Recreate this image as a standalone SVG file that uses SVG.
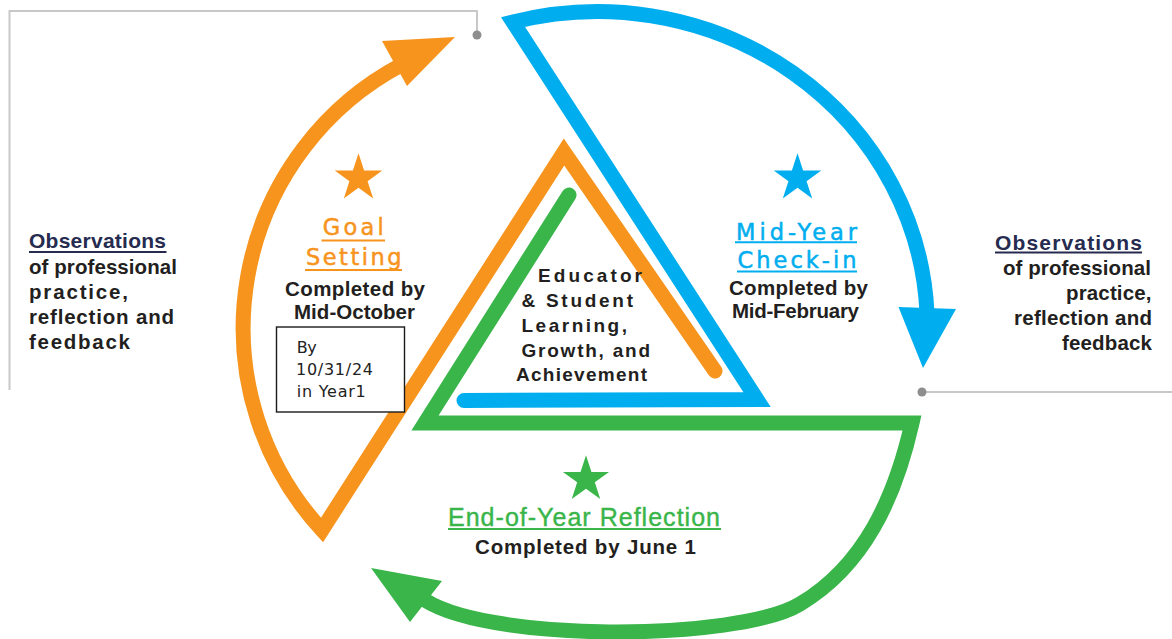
<svg xmlns="http://www.w3.org/2000/svg" width="1172" height="639" viewBox="0 0 1172 639">
  <style>
    .band { fill: none; stroke-width: 15; stroke-linejoin: miter; stroke-linecap: round; }
    .orange { stroke: #f7941d; }
    .blue { stroke: #00aeef; }
    .green { stroke: #39b54a; }
    .fo { fill: #f7941d; }
    .fb { fill: #00aeef; }
    .fg { fill: #39b54a; }
    .leader { fill: none; stroke: #c8c8c8; stroke-width: 2; }
    .dot { fill: #8e8e8e; }
    .blk { font-family: "Liberation Sans", Arial, sans-serif; font-weight: bold; font-size: 20.5px; fill: #231f20; }
    .obs { font-family: "Liberation Sans", Arial, sans-serif; font-weight: bold; font-size: 21px; fill: #262b4f; }
    .head { font-family: "DejaVu Sans", Verdana, sans-serif; font-size: 22.5px; stroke-width: 0.5; }
    .end { font-family: "Liberation Sans", Arial, sans-serif; font-size: 25px; stroke: #39b54a; stroke-width: 0.4; }
    .ctr { font-family: "Liberation Sans", Arial, sans-serif; font-weight: bold; font-size: 19px; fill: #231f20; }
    .note { font-family: "DejaVu Sans", Verdana, sans-serif; font-size: 16px; fill: #222222; }
    .ul { stroke-width: 2; }
  </style>
  <defs>
    <polygon id="star" points="0,-25 5.61,-7.73 23.78,-7.73 9.08,2.95 14.69,20.23 0,9.55 -14.69,20.23 -9.08,2.95 -23.78,-7.73 -5.61,-7.73"/>
  </defs>

  <rect width="1172" height="639" fill="#ffffff"/>

  <!-- leader lines to the observation notes -->
  <g id="connectors">
    <path class="leader" d="M 9.5,390 L 9.5,11 L 477,11 L 477,35"/>
    <circle class="dot" cx="477" cy="35" r="4.5"/>
    <path class="leader" d="M 922,392 L 1172,392"/>
    <circle class="dot" cx="922" cy="392" r="4.5"/>
  </g>

  <!-- green: end-of-year loop -->
  <g id="end-of-year">
    <path class="band green" stroke-width="14" d="M 569,195 L 425,423 L 912,423 C 895,498 864,566 800,604 C 740,641 479,644 419,596"/>
    <polygon class="fg" points="371,568 442,581 410,622"/>
    <use href="#star" class="fg" transform="translate(586,479.5) scale(0.97)"/>
    <text class="end fg" x="448" y="526" textLength="272">End-of-Year Reflection</text>
    <line class="ul" stroke="#39b54a" x1="448" y1="529" x2="721" y2="529"/>
    <text class="blk" x="475" y="554" textLength="221">Completed  by  June  1</text>
  </g>

  <!-- blue: mid-year loop -->
  <g id="mid-year">
    <path class="band blue" stroke-width="14.5" d="M 464,400.5 L 757,399.5 L 513,22 A 330 315 0 0 1 927,313"/>
    <polygon class="fb" points="923,368 898.5,307 956,309"/>
    <use href="#star" class="fb" transform="translate(797.5,178.3)"/>
    <text class="head fb" stroke="#00aeef" x="736" y="239.5" textLength="121">Mid-Year</text>
    <line class="ul" stroke="#00aeef" x1="735" y1="242.3" x2="857" y2="242.3"/>
    <text class="head fb" stroke="#00aeef" x="737.5" y="268" textLength="119">Check-in</text>
    <line class="ul" stroke="#00aeef" x1="737" y1="271.5" x2="857" y2="271.5"/>
    <text class="blk" x="729" y="295" textLength="139">Completed  by</text>
    <text class="blk" x="732" y="318" textLength="127">Mid-February</text>
  </g>

  <!-- orange: goal-setting loop -->
  <g id="goal-setting">
    <path class="band orange" d="M 715,371 L 564,152 L 322,530 A 298 298 0 0 1 401.8,64.7"/>
    <polygon class="fo" points="455,37 382,41 407,86"/>
    <use href="#star" class="fo" transform="translate(358.5,178.3)"/>
    <text class="head fo" stroke="#f7941d" x="322.7" y="235" textLength="61">Goal</text>
    <line class="ul" stroke="#f7941d" x1="321.5" y1="240.5" x2="385" y2="240.5"/>
    <text class="head fo" stroke="#f7941d" x="306" y="265" textLength="95.5">Setting</text>
    <line class="ul" stroke="#f7941d" x1="305" y1="270" x2="402" y2="270"/>
    <text class="blk" x="285" y="296" textLength="140">Completed  by</text>
    <text class="blk" x="294" y="319" textLength="121">Mid-October</text>
  </g>

  <!-- deadline note -->
  <g id="deadline-note">
    <rect x="276.5" y="327" width="128" height="85" fill="#ffffff" stroke="#1a1a1a" stroke-width="1.4"/>
    <text class="note" x="296.7" y="353.3" textLength="20">By</text>
    <text class="note" x="296" y="375" textLength="77">10/31/24</text>
    <text class="note" x="296.7" y="397.3" textLength="69">in Year1</text>
  </g>

  <!-- centre statement -->
  <g id="centre">
    <text class="ctr" x="538" y="281.5" textLength="104">Educator</text>
    <text class="ctr" x="521.5" y="306.5" textLength="111.5">&amp; Student</text>
    <text class="ctr" x="521.5" y="331.5" textLength="105.5">Learning,</text>
    <text class="ctr" x="521.5" y="356.5" textLength="128.5">Growth, and</text>
    <text class="ctr" x="516" y="380.5" textLength="131">Achievement</text>
  </g>

  <!-- observation notes -->
  <g id="observations-left">
    <text class="obs" x="29" y="248" textLength="137">Observations</text>
    <line class="ul" stroke="#262b4f" x1="29" y1="252" x2="166.5" y2="252"/>
    <text class="blk" x="29" y="273.5" textLength="148">of professional</text>
    <text class="blk" x="29" y="299" textLength="99">practice,</text>
    <text class="blk" x="29" y="324" textLength="145">reflection  and</text>
    <text class="blk" x="29" y="349" textLength="101">feedback</text>
  </g>
  <g id="observations-right">
    <text class="obs" x="995" y="249.5" textLength="147">Observations</text>
    <line class="ul" stroke="#262b4f" x1="995" y1="252.5" x2="1142" y2="252.5"/>
    <text class="blk" x="1003" y="275" textLength="148">of professional</text>
    <text class="blk" x="1066" y="300" textLength="85.5">practice,</text>
    <text class="blk" x="1014" y="325" textLength="138">reflection and</text>
    <text class="blk" x="1062" y="350" textLength="90">feedback</text>
  </g>
</svg>
